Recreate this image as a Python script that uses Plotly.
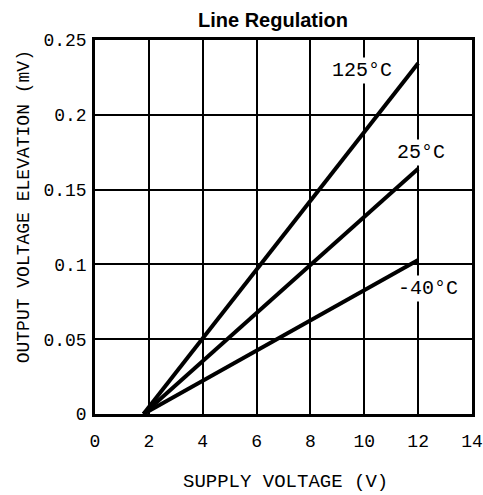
import plotly.graph_objects as go

supply_v = [1.8, 12.0]
series = {
    "125°C": [0.0, 0.2345],
    "25°C": [0.0, 0.164],
    "-40°C": [0.0, 0.103],
}
label_pos = {
    "125°C": (9.93, 0.2296),
    "25°C": (12.12, 0.175),
    "-40°C": (12.38, 0.084),
}
x_ticks = [0, 2, 4, 6, 8, 10, 12, 14]
y_ticks = [0, 0.05, 0.1, 0.15, 0.2, 0.25]
y_tick_text = ["0", "0.05", "0.1", "0.15", "0.2", "0.25"]

mono = "Liberation Mono"

fig = go.Figure()
for name, vals in series.items():
    fig.add_trace(go.Scatter(x=supply_v, y=vals, mode="lines",
                             line=dict(color="black", width=4), name=name,
                             showlegend=False))

for name, (lx, ly) in label_pos.items():
    fig.add_annotation(x=lx, y=ly, text=name, showarrow=False,
                       font=dict(family=mono, size=20, color="black"),
                       bgcolor="white", borderpad=1)

# axis titles as annotations for exact placement
fig.add_annotation(x=0.504, y=-0.182, xref="paper", yref="paper",
                   text="SUPPLY VOLTAGE (V)", showarrow=False,
                   xanchor="center", yanchor="middle",
                   font=dict(family=mono, size=19, color="black"))
fig.add_annotation(x=-0.188, y=0.553, xref="paper", yref="paper",
                   text="OUTPUT VOLTAGE ELEVATION (mV)", showarrow=False,
                   textangle=-90, xanchor="center", yanchor="middle",
                   font=dict(family=mono, size=18, color="black"))
fig.add_annotation(x=0.472, y=1.0535, xref="paper", yref="paper",
                   text="<b>Line Regulation</b>", showarrow=False,
                   xanchor="center", yanchor="middle",
                   font=dict(family="Liberation Sans", size=20, color="black"))

fig.update_layout(
    width=483, height=495,
    margin=dict(l=95, r=11, t=40, b=81, autoexpand=False),
    paper_bgcolor="white", plot_bgcolor="white",
    xaxis=dict(range=[0, 14], tickvals=x_ticks, showgrid=True,
               gridcolor="black", gridwidth=1.5, showline=True,
               linecolor="black", linewidth=2.5, mirror=True, zeroline=False,
               ticks="outside", ticklen=9, tickcolor="rgba(0,0,0,0)",
               automargin=False,
               tickfont=dict(family=mono, size=18, color="black")),
    yaxis=dict(range=[0, 0.25], tickvals=y_ticks, ticktext=y_tick_text,
               showgrid=True, gridcolor="black", gridwidth=1.5,
               showline=True, linecolor="black", linewidth=2.5, mirror=True,
               zeroline=False, ticks="outside", ticklen=2,
               tickcolor="rgba(0,0,0,0)", automargin=False,
               tickfont=dict(family=mono, size=18, color="black")),
)

fig.write_html("out.html", config={"displayModeBar": False},
               post_script="document.body.style.margin='0px';"
                           "document.body.style.overflow='hidden';")
